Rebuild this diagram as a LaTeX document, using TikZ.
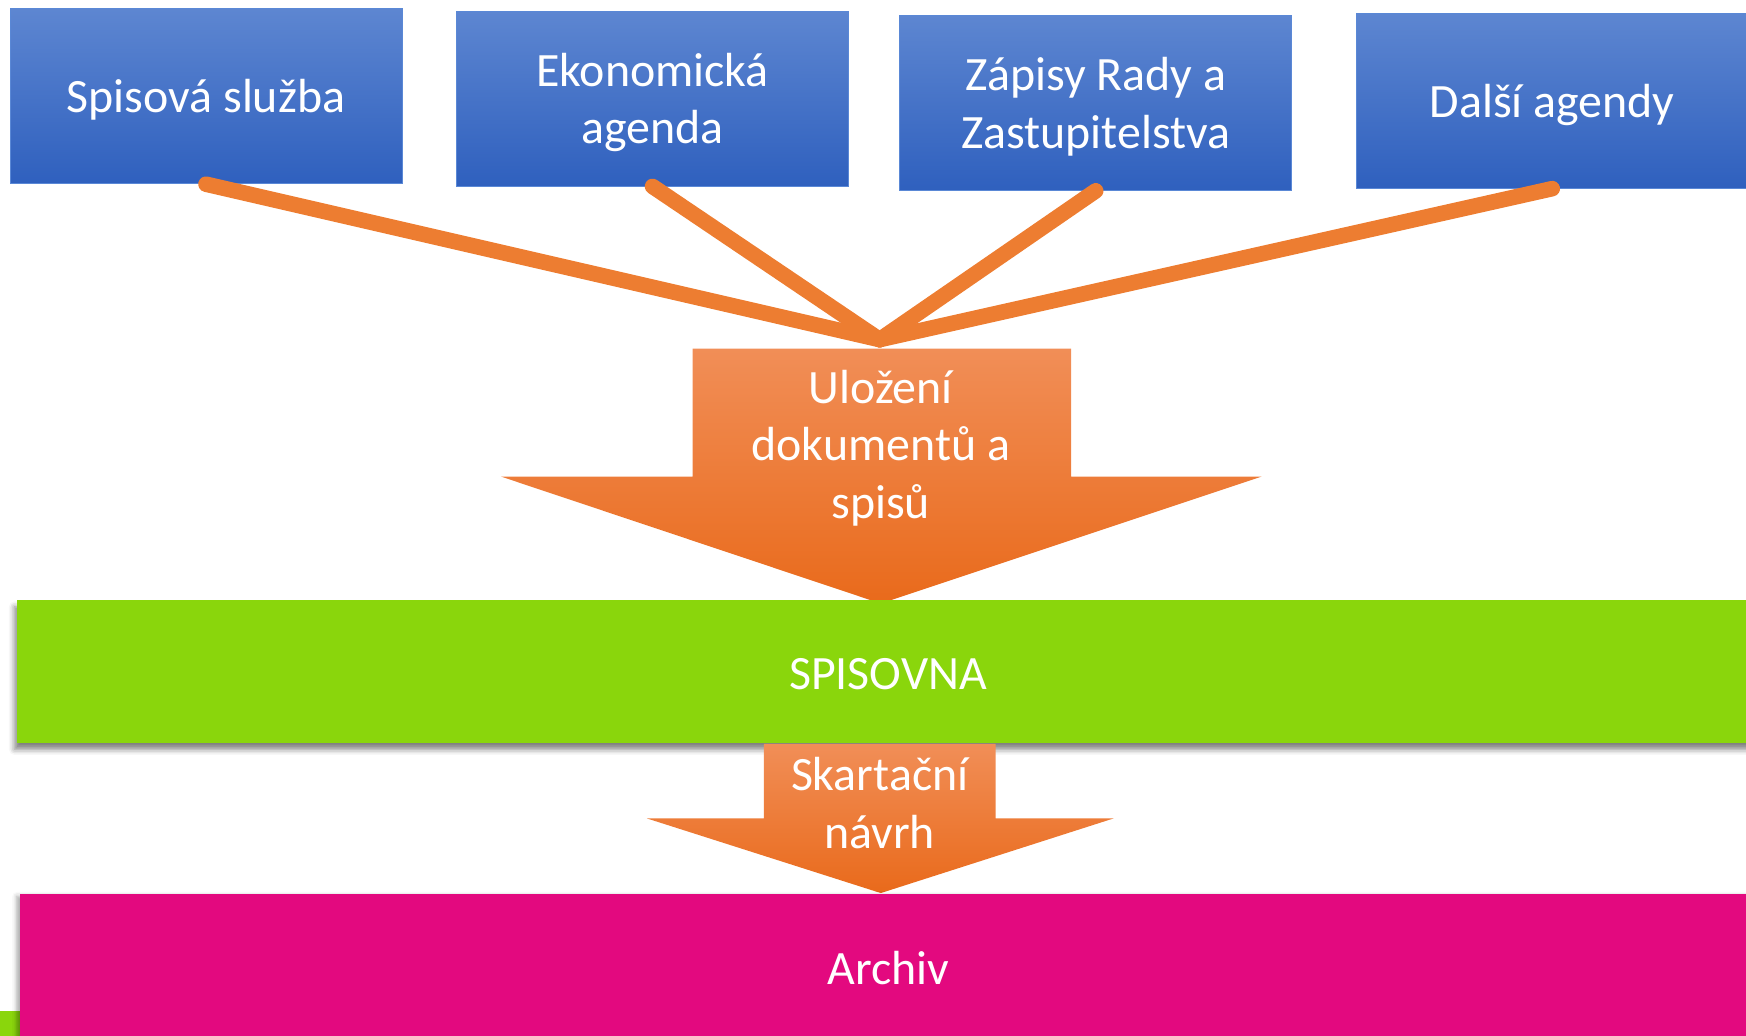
\documentclass[tikz,border=0pt]{standalone}
\usepackage{fontspec}
\setmainfont{Carlito}
\usetikzlibrary{shadows.blur}
\definecolor{boxtop}{HTML}{5D86D1}
\definecolor{boxbot}{HTML}{2F60BE}
\definecolor{boxline}{HTML}{5A88D6}
\definecolor{arrtop}{HTML}{F18E57}
\definecolor{arrbot}{HTML}{E96A1B}
\definecolor{conn}{HTML}{ED7D31}
\definecolor{spgreen}{HTML}{8AD60C}
\definecolor{arpink}{HTML}{E3097F}
\begin{document}
\begin{tikzpicture}[x=1pt,y=-1pt,
  bigfont/.style={font=\fontsize{43}{52}\selectfont},
  agenda/.style={minimum width=352pt, minimum height=157pt, inner sep=0pt,
    top color=boxtop, bottom color=boxbot, draw=boxline, line width=0.8pt},
  intext/.style={text=white, align=center, inner sep=0pt, bigfont, yshift=-3.5pt},
  arrowtext/.style={text=white, align=center, inner sep=0pt, bigfont},
  band/.style={inner sep=0pt},
  conline/.style={draw=conn, line width=14pt, line cap=round}]
\useasboundingbox (0,0) rectangle (1568,930);
\clip (0,0) rectangle (1568,930);
% green sliver bottom-left
\fill[spgreen] (0,908) rectangle (20,930);
% agenda boxes
\node[agenda, label={[intext]center:Spisová služba}] (b1) at (185,86.5) {};
\node[agenda, label={[intext]center:Ekonomická\\agenda}] (b2) at (586,88.5) {};
\node[agenda, label={[intext]center:Zápisy Rady a\\Zastupitelstva}] (b3) at (984,92.5) {};
\node[agenda, label={[intext]center:Další agendy}] (b4) at (1394,90.5) {};
% big arrow
\shade[top color=arrtop, bottom color=arrbot]
  (622,313) -- (962,313) -- (962,428) -- (1133,428) -- (791,542)
  -- (450,428) -- (622,428) -- cycle;
\node[arrowtext] (a1) at (791,402.5) {Uložení\\dokumentů a\\spisů};
% connectors
\coordinate (conv) at (790,305);
\draw[conline] (b1.south) -- (conv);
\draw[conline] (b2.south) -- (conv);
\draw[conline] (b3.south) -- (conv);
\draw[conline] (b4.south) -- (conv);
% SPISOVNA band
\node[band, fill=spgreen, minimum width=1565pt, minimum height=128pt,
  blur shadow={shadow xshift=-2pt, shadow yshift=-6pt, shadow opacity=50, shadow blur radius=5pt},
  label={[intext, yshift=1.5pt]center:SPISOVNA}]
  (sp) at (797.5,603) {};
% small arrow
\shade[top color=arrtop, bottom color=arrbot]
  (686,668) -- (894,668) -- (894,735) -- (1000,735) -- (791,802)
  -- (581,735) -- (686,735) -- cycle;
\node[arrowtext] (a2) at (790,721.5) {Skartační\\návrh};
% Archiv band
\node[band, fill=arpink, minimum width=1560pt, minimum height=130pt,
  blur shadow={shadow xshift=-3pt, shadow yshift=-2pt, shadow opacity=35, shadow blur radius=4pt},
  label={[intext, yshift=2pt]center:Archiv}]
  (ar) at (798,868) {};
\end{tikzpicture}
\end{document}
